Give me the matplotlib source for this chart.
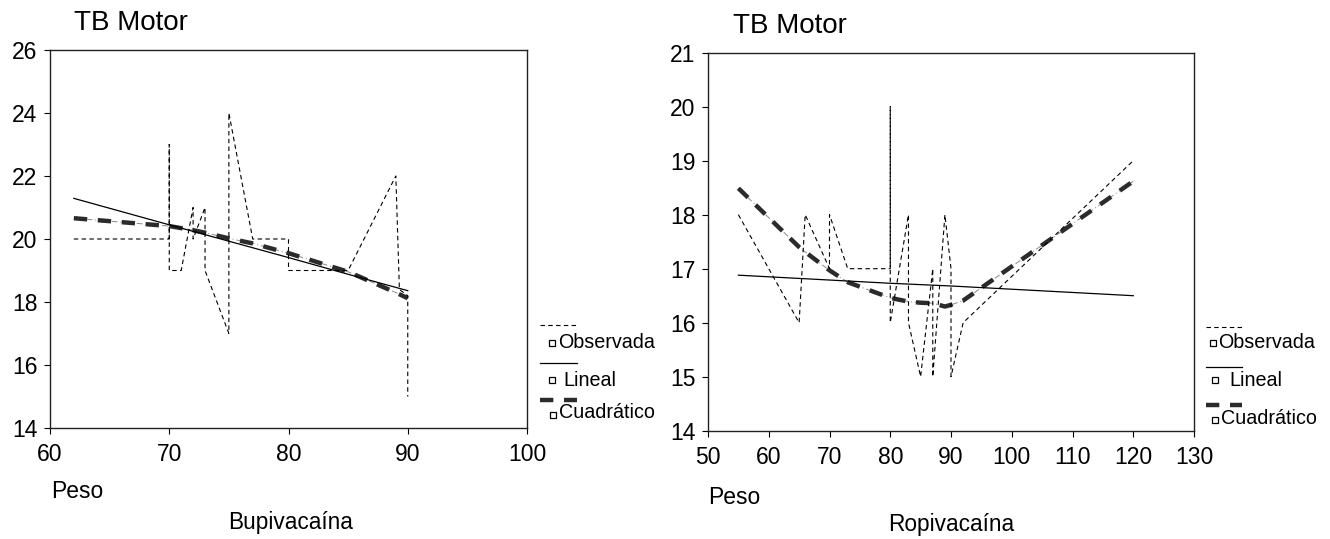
import matplotlib
matplotlib.use('Agg')
import matplotlib.pyplot as plt
from matplotlib.lines import Line2D

plt.rcParams['font.family'] = ['Liberation Sans', 'DejaVu Sans']

# Bupivacaina panel
bupi_obs_x = [62, 70, 70, 70, 71, 72, 72, 73, 73, 75, 75, 77, 80, 80, 85, 89, 89.3, 90, 90]
bupi_obs_y = [20, 20, 23, 19, 19, 21, 20, 21, 19, 17, 24, 20, 20, 19, 19, 22, 18.4, 18.2, 15]
bupi_lin_x = [62, 70, 75, 80, 85, 90]
bupi_lin_y = [21.29, 20.45, 19.93, 19.41, 18.88, 18.36]
bupi_quad_x = [62, 70, 72, 73, 75, 77, 80, 85, 89, 90]
bupi_quad_y = [20.66, 20.41, 20.28, 20.20, 20.02, 19.86, 19.55, 18.96, 18.30, 18.12]

# Ropivacaina panel
ropi_obs_x = [55, 65, 66, 70, 70, 73, 80, 80, 80, 83, 83, 85, 87, 87, 89, 90, 90, 92, 120]
ropi_obs_y = [18, 16, 18, 17, 18, 17, 17, 20, 16, 18, 16, 15, 17, 15, 18, 17, 15, 16, 19]
ropi_lin_x = [55, 65, 70, 80, 90, 100, 110, 120]
ropi_lin_y = [16.88, 16.82, 16.79, 16.73, 16.68, 16.62, 16.56, 16.50]
ropi_quad_x = [55, 65, 66, 70, 73, 80, 83, 85, 87, 89, 90, 92, 120]
ropi_quad_y = [18.49, 17.40, 17.31, 16.97, 16.75, 16.46, 16.39, 16.37, 16.36, 16.30, 16.33, 16.41, 18.62]

legend_labels = ['Observada', 'Lineal', 'Cuadrático']

W, H = 1330, 539
fig = plt.figure(figsize=(W / 100, H / 100), dpi=100)

def px(x, y):
    return x / W, 1 - y / H

QUAD_DASH = (3, 2.4)

def draw_panel(ax, ox, oy, lx, ly, qx, qy, xlim, ylim, xstep, ystep):
    ax.plot(qx, qy, color='#888888', lw=0.7, dashes=(6, 3, 1, 3), zorder=2)
    ax.plot(qx, qy, color='#2b2b2b', lw=3.2, dashes=QUAD_DASH, zorder=3)
    ax.plot(lx, ly, color='black', lw=0.9, zorder=4)
    ax.plot(ox, oy, color='black', lw=0.8, dashes=(4, 3), zorder=5)
    ax.set_xlim(*xlim)
    ax.set_ylim(*ylim)
    ax.set_xticks(range(xlim[0], xlim[1] + 1, xstep))
    ax.set_yticks(range(ylim[0], ylim[1] + 1, ystep))
    ax.tick_params(direction='out', length=4, width=0.8, labelsize=16.5, pad=5)
    ax.tick_params(axis='x', pad=7)
    for s in ax.spines.values():
        s.set_color('#222222')
        s.set_linewidth(1.0)

ax1 = fig.add_axes([50 / W, 1 - 428 / H, 477 / W, 378 / H])
draw_panel(ax1, bupi_obs_x, bupi_obs_y, bupi_lin_x, bupi_lin_y, bupi_quad_x, bupi_quad_y,
           (60, 100), (14, 26), 10, 2)

ax2 = fig.add_axes([708 / W, 1 - 430.7 / H, 486 / W, 378 / H])
draw_panel(ax2, ropi_obs_x, ropi_obs_y, ropi_lin_x, ropi_lin_y, ropi_quad_x, ropi_quad_y,
           (50, 130), (14, 21), 10, 1)

# titles and axis texts
fig.text(*px(74, 23), 'TB Motor', ha='left', va='center', fontsize=20)
fig.text(*px(733, 26), 'TB Motor', ha='left', va='center', fontsize=20)
fig.text(*px(51, 491), 'Peso', ha='left', va='center', fontsize=16.5)
fig.text(*px(708, 497), 'Peso', ha='left', va='center', fontsize=16.5)
fig.text(*px(291, 523), 'Bupivacaína', ha='center', va='center', fontsize=16.3)
fig.text(*px(951, 525), 'Ropivacaína', ha='center', va='center', fontsize=16.3)

# hand-made legends like the original
def legend(x0, x1, ys_line, sq_pts, txt_pts):
    styles = [dict(color='black', lw=0.8, dashes=(4, 3)),
              dict(color='black', lw=0.9),
              dict(color='#2b2b2b', lw=3.2, dashes=QUAD_DASH)]
    for y, st in zip(ys_line, styles):
        fig.add_artist(Line2D([x0 / W, x1 / W], [1 - y / H] * 2, transform=fig.transFigure, **st))
    for (sx, sy), (tx, ty), lab in zip(sq_pts, txt_pts, legend_labels):
        fig.add_artist(Line2D([sx / W], [1 - sy / H], transform=fig.transFigure, marker='s',
                              ms=5, mfc='white', mec='black', mew=0.9, ls='none'))
        fig.text(*px(tx, ty), lab, ha='left', va='center', fontsize=14.2)

legend(540, 577, [325, 363, 400],
       [(552, 343), (552, 380), (553, 415)],
       [(558, 343), (563, 380), (559, 413)])
legend(1206, 1242, [327, 367, 405],
       [(1213, 343), (1215, 380), (1215, 420)],
       [(1218, 343), (1229, 380), (1221, 418)])

fig.savefig('out.png', dpi=100)
